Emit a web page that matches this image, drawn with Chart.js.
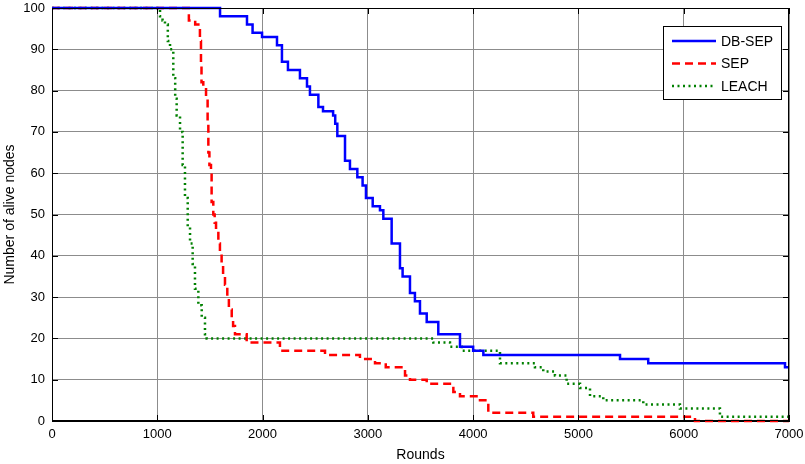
<!DOCTYPE html>
<html>
<head>
<meta charset="utf-8">
<script src="https://cdn.jsdelivr.net/npm/chart.js@4.4.1/dist/chart.umd.min.js"></script>
<style>
    html, body { margin: 0; padding: 0; background: #fff; }
    #wrap { width: 805px; height: 464px; }
</style>
</head>
<body>
<div id="wrap"><canvas id="alive-chart" width="805" height="464"></canvas></div>
<script>
// axis ticks
var xTicks = [0, 1000, 2000, 3000, 4000, 5000, 6000, 7000];
var yTicks = [0, 10, 20, 30, 40, 50, 60, 70, 80, 90, 100];

// DB-SEP : round where a level starts, alive nodes at that level
var dbsepRounds = [0, 1596, 1852, 1905, 1995, 2137, 2184, 2241, 2355, 2422, 2450, 2530, 2574, 2670, 2690, 2710, 2783, 2830, 2900, 2950, 2982, 3046, 3115, 3147, 3226, 3305, 3330, 3400, 3447, 3495, 3559, 3669, 3875, 4000, 4097, 5395, 5663, 6962, 7000];
var dbsepAlive  = [100, 98, 96, 94, 93, 91, 87, 85, 83, 81, 79, 76, 75, 74, 72, 69, 63, 61, 59, 57, 54, 52, 51, 49, 43, 37, 35, 31, 29, 26, 24, 21, 18, 17, 16, 15, 14, 13, 13];

// SEP
var sepRounds = [0, 1300, 1360, 1390, 1405, 1415, 1420, 1437, 1463, 1478, 1485, 1495, 1510, 1516, 1532, 1545, 1558, 1580, 1595, 1611, 1625, 1643, 1665, 1680, 1707, 1720, 1738, 1849, 2165, 2593, 2925, 3068, 3170, 3353, 3400, 3559, 3812, 3875, 4065, 4144, 4571, 6107, 7000];
var sepAlive  = [100, 97, 96, 95, 92, 86, 82, 81, 79, 72, 65, 62, 60, 53, 50, 48, 46, 43, 41, 38, 35, 33, 30, 27, 25, 23, 21, 19, 17, 16, 15, 14, 13, 11, 10, 9, 7, 6, 5, 2, 1, 0, 0];

// LEACH
var leachRounds = [0, 1026, 1050, 1073, 1100, 1121, 1152, 1170, 1184, 1216, 1241, 1263, 1289, 1311, 1336, 1358, 1390, 1422, 1453, 1469, 3622, 3780, 3891, 4255, 4587, 4666, 4777, 4888, 5015, 5110, 5236, 5616, 5964, 6344, 7000];
var leachAlive  = [100, 98, 97, 96, 92, 90, 83, 78, 74, 70, 62, 54, 47, 43, 38, 32, 28, 25, 21, 20, 19, 18, 17, 14, 13, 12, 11, 9, 8, 6, 5, 4, 3, 1, 1];

var seriesNames = ["DB-SEP", "SEP", "LEACH"];

function toPoints(xs, ys) {
    return xs.map(function (x, i) { return {x: x, y: ys[i]}; });
}

Chart.defaults.font.family = "'Liberation Sans', Arial, sans-serif";
Chart.defaults.color = "#000";

// box round the plot plus the small inner ticks
var framePlugin = {
    id: "frame",
    afterDraw: function (chart) {
        var c = chart.ctx, a = chart.chartArea;
        var sx = chart.scales.x, sy = chart.scales.y;
        c.save();
        c.strokeStyle = "#000";
        c.lineWidth = 1;
        c.strokeRect(a.left + 0.5, a.top + 0.5, a.right - a.left - 1, a.bottom - a.top - 1);
        c.beginPath();
        xTicks.forEach(function (v) {
            var px = Math.round(sx.getPixelForValue(v)) + 0.5;
            c.moveTo(px, a.bottom); c.lineTo(px, a.bottom - 6);
            c.moveTo(px, a.top); c.lineTo(px, a.top + 6);
        });
        yTicks.forEach(function (v) {
            var py = Math.round(sy.getPixelForValue(v)) + 0.5;
            c.moveTo(a.left, py); c.lineTo(a.left + 6, py);
            c.moveTo(a.right, py); c.lineTo(a.right - 6, py);
        });
        c.stroke();
        c.restore();
    }
};

// legend box inside the plot, top right
var boxLegend = {
    id: "boxLegend",
    afterDatasetsDraw: function (chart) {
        var c = chart.ctx;
        var left = 663.5, top = 26.5, w = 118, h = 73;
        var rows = [41, 63.5, 86];
        c.save();
        c.fillStyle = "#fff";
        c.fillRect(left, top, w, h);
        c.strokeStyle = "#000";
        c.lineWidth = 1;
        c.strokeRect(left, top, w, h);
        chart.data.datasets.forEach(function (ds, i) {
            c.beginPath();
            c.strokeStyle = ds.borderColor;
            c.lineWidth = ds.borderWidth;
            c.setLineDash(ds.borderDash || []);
            c.moveTo(672, rows[i]);
            c.lineTo(716, rows[i]);
            c.stroke();
            c.setLineDash([]);
            c.fillStyle = "#000";
            c.font = "14px 'Liberation Sans', Arial, sans-serif";
            c.textBaseline = "middle";
            c.fillText(ds.label, 721, rows[i] + 1);
        });
        c.restore();
    }
};

var ctx = document.getElementById("alive-chart").getContext("2d");
var myChart = new Chart(ctx, {
    type: "line",
    data: {
        datasets: [{
                label: seriesNames[0],
                data: toPoints(dbsepRounds, dbsepAlive),
                borderColor: "#0000ff",
                borderWidth: 2.5
            },
            {
                label: seriesNames[1],
                data: toPoints(sepRounds, sepAlive),
                borderColor: "#ff0000",
                borderWidth: 2.5,
                borderDash: [8, 5]
            },
            {
                label: seriesNames[2],
                data: toPoints(leachRounds, leachAlive),
                borderColor: "#008000",
                borderWidth: 2.5,
                borderDash: [2, 3.5]
            }
        ]
    },
    options: {
        responsive: false,
        animation: false,
        devicePixelRatio: 1,
        datasets: {
            line: {
                stepped: "before",
                pointRadius: 0,
                fill: false,
                clip: 3,
                borderCapStyle: "butt"
            }
        },
        layout: {
            padding: {left: 0, right: 16, top: 8, bottom: 0}
        },
        plugins: {
            legend: {display: false},
            tooltip: {enabled: false}
        },
        scales: {
            x: {
                type: "linear",
                min: 0,
                max: 7000,
                afterBuildTicks: function (s) { s.ticks = xTicks.map(function (v) { return {value: v}; }); },
                afterFit: function (s) { s.height = 43; s.paddingLeft = 0; s.paddingRight = 0; },
                ticks: {
                    callback: function (v) { return String(v); },
                    font: {size: 13},
                    padding: 6,
                    maxRotation: 0
                },
                grid: {color: "#8c8c8c", drawTicks: false},
                border: {display: true, color: "#000"},
                title: {
                    display: true,
                    text: "Rounds",
                    font: {size: 14},
                    padding: {top: 0, bottom: 0}
                }
            },
            y: {
                min: 0,
                max: 100,
                afterBuildTicks: function (s) { s.ticks = yTicks.map(function (v) { return {value: v}; }); },
                afterFit: function (s) { s.width = 52; s.paddingTop = 0; s.paddingBottom = 0; },
                ticks: {
                    callback: function (v) { return String(v); },
                    font: {size: 13},
                    padding: 7
                },
                grid: {color: "#8c8c8c", drawTicks: false},
                border: {display: true, color: "#000"},
                title: {
                    display: true,
                    text: "Number of alive nodes",
                    font: {size: 14},
                    padding: {top: 1.5, bottom: 0}
                }
            }
        }
    },
    plugins: [framePlugin, boxLegend]
});
</script>
</body>
</html>
